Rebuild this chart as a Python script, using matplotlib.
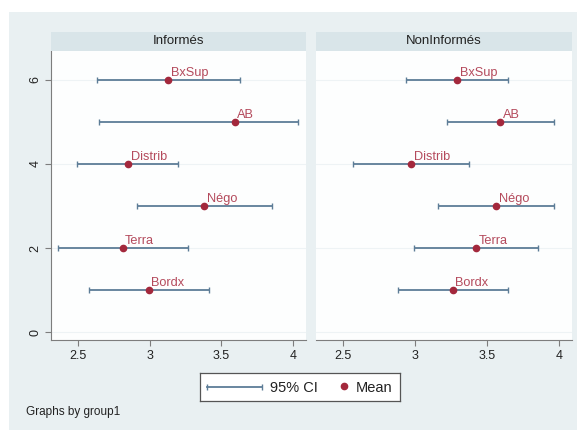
import matplotlib
matplotlib.use("Agg")
import matplotlib.pyplot as plt
from matplotlib.patches import Rectangle

plt.rcParams['font.family'] = ['Liberation Sans', 'DejaVu Sans']

categories = ["Bordx", "Terra", "Négo", "Distrib", "AB", "BxSup"]
positions = [1, 2, 3, 4, 5, 6]
panels = ["Informés", "NonInformés"]

inf_mean = [2.994, 2.810, 3.381, 2.850, 3.591, 3.129]
inf_lo = [2.577, 2.360, 2.910, 2.491, 2.648, 2.628]
inf_hi = [3.416, 3.264, 3.854, 3.199, 4.034, 3.631]

non_mean = [3.260, 3.421, 3.563, 2.973, 3.591, 3.293]
non_lo = [2.878, 2.992, 3.157, 2.570, 3.223, 2.934]
non_hi = [3.645, 3.852, 3.966, 3.374, 3.962, 3.643]

xticks = [2.5, 3, 3.5, 4]
xticklabels = ["2.5", "3", "3.5", "4"]
yticks = [0, 2, 4, 6]

W, H = 579, 430
fig = plt.figure(figsize=(W / 100, H / 100), dpi=100, facecolor="white")

BG = "#e9f0f2"
STRIP = "#d9e5e9"
CI_COL = "#5d7d97"
MEAN_COL = "#a3283c"
LAB_COL = "#b44a5c"
AX_COL = "#7d7d7d"

fig.patches.append(Rectangle((9 / W, 0), 568 / W, 1 - 12 / H, transform=fig.transFigure,
                             facecolor=BG, edgecolor="none", zorder=-10))


def fx(px):
    return px / W


def fy(py):
    return 1 - py / H


panel_px = [(51, 306), (316, 572)]
top, bottom = 51, 340
data = [(inf_mean, inf_lo, inf_hi), (non_mean, non_lo, non_hi)]

for i, (x0, x1) in enumerate(panel_px):
    ax = fig.add_axes([fx(x0), fy(bottom), (x1 - x0) / W, (bottom - top) / H])
    ax.set_facecolor("#fdfefe")
    mean, lo, hi = data[i]
    for y in yticks:
        ax.axhline(y, color="#eef3f5", lw=0.8, zorder=0)
    xerr_lo = [m - l for m, l in zip(mean, lo)]
    xerr_hi = [h - m for m, h in zip(mean, hi)]
    ax.errorbar(mean, positions, xerr=[xerr_lo, xerr_hi], fmt="none", ecolor=CI_COL,
                elinewidth=1.3, capsize=2.5, capthick=1.0, zorder=2)
    ax.plot(mean, positions, "o", color=MEAN_COL, markersize=4.5, zorder=3)
    for m, p, c in zip(mean, positions, categories):
        ax.annotate(c, (m, p), xytext=(1.8, 2.8), textcoords="offset points",
                    ha="left", va="baseline", color=LAB_COL, fontsize=9.2)
    ax.set_xlim(2.31, 4.09)
    ax.set_ylim(-0.19, 6.69)
    ax.set_xticks(xticks)
    ax.set_xticklabels(xticklabels, fontsize=9)
    for s in ["top", "right"]:
        ax.spines[s].set_visible(False)
    ax.spines["bottom"].set_color(AX_COL)
    ax.tick_params(axis="x", colors=AX_COL, labelcolor="#222222", length=4, width=0.8, pad=3)
    if i == 0:
        ax.spines["left"].set_color(AX_COL)
        ax.set_yticks(yticks)
        ax.set_yticklabels([str(v) for v in yticks], fontsize=9, rotation=90, va="center")
        ax.tick_params(axis="y", colors=AX_COL, labelcolor="#222222", length=4, width=0.8, pad=3)
    else:
        ax.spines["left"].set_visible(False)
        ax.set_yticks([])
    # strip
    sax = fig.add_axes([fx(x0), fy(top), (x1 - x0) / W, 19 / H])
    sax.set_facecolor(STRIP)
    sax.set_xticks([])
    sax.set_yticks([])
    for s in sax.spines.values():
        s.set_visible(False)
    sax.text(0.5, 0.5, panels[i], ha="center", va="center", fontsize=9.5, color="#222222",
             transform=sax.transAxes)

# legend box
lax = fig.add_axes([fx(200), fy(401), 200 / W, 28 / H])
lax.set_xlim(0, 200)
lax.set_ylim(0, 28)
lax.set_facecolor("white")
lax.set_xticks([])
lax.set_yticks([])
for s in lax.spines.values():
    s.set_color("#555555")
    s.set_linewidth(0.9)
lax.plot([7, 62], [14, 14], color=CI_COL, lw=1.3)
lax.plot([7, 62], [14, 14], "|", color=CI_COL, markersize=5, mew=1.0)
lax.text(70, 13.5, "95% CI", fontsize=10.5, va="center", ha="left", color="#222222")
lax.plot([144], [15], "o", color=MEAN_COL, markersize=4.5)
lax.text(156, 13.5, "Mean", fontsize=10.5, va="center", ha="left", color="#222222")

fig.text(fx(26), fy(412), "Graphs by group1", fontsize=8.5, ha="left", va="center", color="#222222")

fig.savefig("out.png", dpi=100, facecolor="white")
